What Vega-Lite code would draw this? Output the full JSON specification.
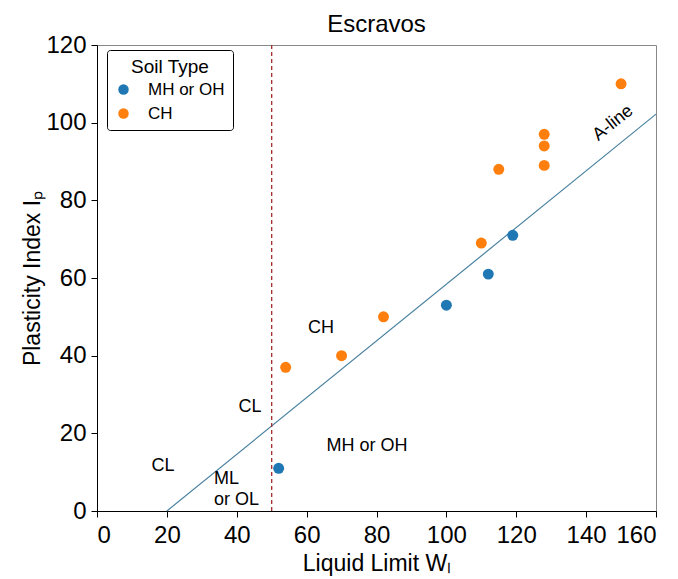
{
  "$schema": "https://vega.github.io/schema/vega-lite/v6.json",
  "autosize": {"type": "none"},
  "padding": {"left": 97, "top": 45, "right": 22, "bottom": 68},
  "width": 559,
  "height": 466,
  "background": "white",
  "title": {"text": "Escravos", "fontSize": 24, "font": "Liberation Sans", "fontWeight": "normal", "color": "black", "offset": -4},
  "config": {
    "font": "Liberation Sans",
    "view": {"stroke": "#888888", "strokeWidth": 1},
    "axis": {"grid": false, "labelFontSize": 24, "titleFontSize": 23, "labelColor": "black", "titleColor": "black", "tickColor": "black", "domainColor": "black", "tickSize": 6, "labelFont": "Liberation Sans", "titleFont": "Liberation Sans", "titleFontWeight": "normal"}
  },
  "datasets": {
    "pts": [
      {"LL": 52, "PI": 11, "Soil Type": "MH or OH"},
      {"LL": 100, "PI": 53, "Soil Type": "MH or OH"},
      {"LL": 112, "PI": 61, "Soil Type": "MH or OH"},
      {"LL": 119, "PI": 71, "Soil Type": "MH or OH"},
      {"LL": 54, "PI": 37, "Soil Type": "CH"},
      {"LL": 70, "PI": 40, "Soil Type": "CH"},
      {"LL": 82, "PI": 50, "Soil Type": "CH"},
      {"LL": 110, "PI": 69, "Soil Type": "CH"},
      {"LL": 115, "PI": 88, "Soil Type": "CH"},
      {"LL": 128, "PI": 97, "Soil Type": "CH"},
      {"LL": 128, "PI": 94, "Soil Type": "CH"},
      {"LL": 128, "PI": 89, "Soil Type": "CH"},
      {"LL": 150, "PI": 110, "Soil Type": "CH"}
    ],
    "aline": [{"LL": 20, "PI": 0}, {"LL": 160, "PI": 102.2}],
    "vline": [{"LL": 50, "PI": 0}, {"LL": 50, "PI": 120}],
    "labels": [
      {"LL": 18.9, "PI": 11.6, "t": "CL"},
      {"LL": 43.8, "PI": 26.8, "t": "CL"},
      {"LL": 64.1, "PI": 47.1, "t": "CH"},
      {"LL": 77.3, "PI": 16.7, "t": "MH or OH"}
    ],
    "labelsLeft": [
      {"LL": 33.5, "PI": 8.2, "t": "ML"},
      {"LL": 33.5, "PI": 2.8, "t": "or OL"}
    ],
    "alabel": [{"LL": 147.7, "PI": 99.9, "t": "A-line"}]
  },
  "layer": [
    {
      "data": {"name": "aline"},
      "mark": {"type": "line", "color": "#4a82a0", "strokeWidth": 1.2},
      "encoding": {
        "x": {"field": "LL", "type": "quantitative", "scale": {"domain": [0, 160]}, "axis": {"values": [0, 20, 40, 60, 80, 100, 120, 140, 160], "title": "Liquid Limit Wₗ", "labelPadding": 6, "titlePadding": 5}},
        "y": {"field": "PI", "type": "quantitative", "scale": {"domain": [0, 120]}, "axis": {"values": [0, 20, 40, 60, 80, 100, 120], "title": "Plasticity Index Iₚ", "labelPadding": 5, "titlePadding": 1}}
      }
    },
    {
      "data": {"name": "vline"},
      "mark": {"type": "line", "color": "#a52a2a", "strokeWidth": 1.3, "strokeDash": [4, 3]},
      "encoding": {
        "x": {"field": "LL", "type": "quantitative"},
        "y": {"field": "PI", "type": "quantitative"}
      }
    },
    {
      "data": {"name": "pts"},
      "mark": {"type": "circle", "size": 120, "opacity": 1},
      "encoding": {
        "x": {"field": "LL", "type": "quantitative"},
        "y": {"field": "PI", "type": "quantitative"},
        "color": {
          "field": "Soil Type", "type": "nominal",
          "scale": {"domain": ["MH or OH", "CH"], "range": ["#1f77b4", "#ff7f0e"]},
          "legend": {
            "orient": "none", "legendX": 10, "legendY": 5,
            "titleFontSize": 19, "labelFontSize": 17, "titleFontWeight": "normal",
            "titleColor": "black", "labelColor": "black", "titleAnchor": "middle",
            "strokeColor": "black", "fillColor": "white", "cornerRadius": 3, "padding": 8,
            "symbolSize": 110, "symbolType": "circle", "rowPadding": 6, "labelOffset": 16, "titlePadding": 4
          }
        }
      }
    },
    {
      "data": {"name": "labels"},
      "mark": {"type": "text", "fontSize": 18, "color": "black", "align": "center", "baseline": "middle"},
      "encoding": {
        "x": {"field": "LL", "type": "quantitative"},
        "y": {"field": "PI", "type": "quantitative"},
        "text": {"field": "t"}
      }
    },
    {
      "data": {"name": "labelsLeft"},
      "mark": {"type": "text", "fontSize": 18, "color": "black", "align": "left", "baseline": "middle"},
      "encoding": {
        "x": {"field": "LL", "type": "quantitative"},
        "y": {"field": "PI", "type": "quantitative"},
        "text": {"field": "t"}
      }
    },
    {
      "data": {"name": "alabel"},
      "mark": {"type": "text", "fontSize": 18, "color": "black", "align": "center", "baseline": "middle", "angle": 321.5},
      "encoding": {
        "x": {"field": "LL", "type": "quantitative"},
        "y": {"field": "PI", "type": "quantitative"},
        "text": {"field": "t"}
      }
    }
  ]
}
